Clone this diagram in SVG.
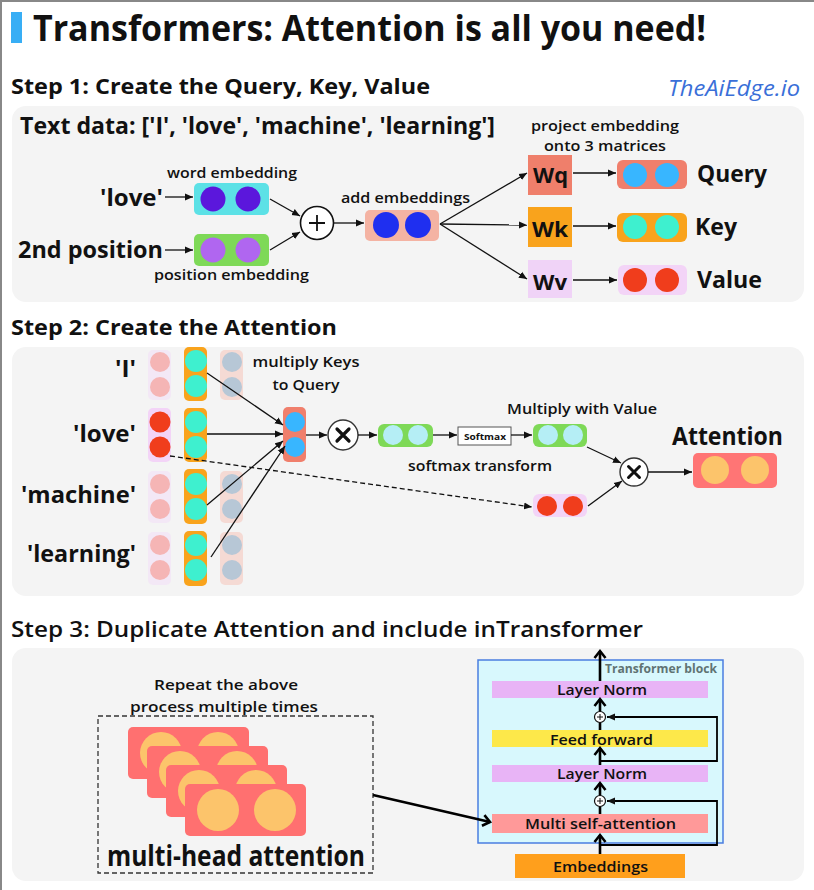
<svg xmlns="http://www.w3.org/2000/svg" width="814" height="890" viewBox="0 0 814 890">
<defs>
<style>
text{font-family:"Open Sans","Liberation Sans",sans-serif;font-weight:700;fill:#111}
.h{font-size:21px}
.lbl{font-size:15px;font-weight:600}
.big{font-size:24px}
.panel{fill:#f4f4f4}
.ln{stroke:#111;stroke-width:1.3;fill:none}
.thick{stroke:#000;stroke-width:2.6;fill:none}
.skip{stroke:#000;stroke-width:1.8;fill:none}
.kp{fill:#f9a31c}.kc{fill:#3ef0cf}
.vf{fill:#f3e8f6}.vfc{fill:#f5b5b5}
.tp{fill:#f5dad4}.tc{fill:#b7c7d6}
.card{fill:#ff7070}.cc{fill:#fcc46b}
</style>
<marker id="a" markerUnits="userSpaceOnUse" markerWidth="9" markerHeight="8" refX="8" refY="4" orient="auto"><path d="M0,0.5 L8,4 L0,7.5 z" fill="#111"/></marker>
<marker id="c" markerUnits="userSpaceOnUse" markerWidth="12" markerHeight="14" refX="9" refY="7" orient="auto"><path d="M2,1.5 L9,7 L2,12.5" fill="none" stroke="#000" stroke-width="2.6"/></marker>
</defs>
<rect width="814" height="890" fill="#fff"/>
<path d="M1,890 V1 H814" fill="none" stroke="#888" stroke-width="2"/>

<g id="title">
<rect x="11" y="12" width="11" height="31" fill="#38aef5"/>
<text x="33" y="41" style="font-size:36px" textLength="673" lengthAdjust="spacingAndGlyphs">Transformers: Attention is all you need!</text>
</g>

<!-- Step 1 -->
<g id="step1-heading">
<text class="h" x="11" y="94" textLength="419" lengthAdjust="spacingAndGlyphs">Step 1: Create the Query, Key, Value</text>
<text x="668" y="96" style="font-size:21px;font-weight:400;font-style:italic;fill:#3a6fd8" textLength="132" lengthAdjust="spacingAndGlyphs">TheAiEdge.io</text>
</g>
<rect id="panel1" class="panel" x="12" y="106" width="792" height="196" rx="14"/>
<text x="20" y="134" style="font-size:23px" textLength="475" lengthAdjust="spacingAndGlyphs">Text data: ['I', 'love', 'machine', 'learning']</text>

<g id="love-word">
<text class="big" x="100" y="206" textLength="63" lengthAdjust="spacingAndGlyphs">'love'</text>
</g>
<g id="pos-word">
<text class="big" x="18" y="258" textLength="145" lengthAdjust="spacingAndGlyphs">2nd position</text>
</g>
<g id="word-emb">
<text class="lbl" x="167" y="178" textLength="130" lengthAdjust="spacingAndGlyphs">word embedding</text>
<rect x="194" y="183" width="75" height="32" rx="5" fill="#5ce1e6"/>
<circle cx="213" cy="199" r="12.5" fill="#5b17dc"/>
<circle cx="248" cy="199" r="12.5" fill="#5b17dc"/>
</g>
<g id="pos-emb">
<rect x="194" y="234" width="75" height="32" rx="5" fill="#7ed957"/>
<circle cx="213" cy="250" r="12.5" fill="#b066f0"/>
<circle cx="248" cy="250" r="12.5" fill="#b066f0"/>
<text class="lbl" x="154" y="280" textLength="155" lengthAdjust="spacingAndGlyphs">position embedding</text>
</g>
<g id="plus">
<circle cx="317" cy="223" r="16.5" fill="#fff" stroke="#111" stroke-width="1.6"/>
<path d="M309,223 H325 M317,215 V231" stroke="#111" stroke-width="1.8"/>
</g>
<g id="add-emb">
<text class="lbl" x="341" y="203" textLength="129" lengthAdjust="spacingAndGlyphs">add embeddings</text>
<rect x="365" y="210" width="74" height="31" rx="5" fill="#f4b3a3"/>
<circle cx="386" cy="225" r="13" fill="#1f2ff0"/>
<circle cx="418" cy="225" r="13" fill="#1f2ff0"/>
</g>
<text class="lbl" x="531" y="131" textLength="148" lengthAdjust="spacingAndGlyphs">project embedding</text>
<text class="lbl" x="544" y="151" textLength="122" lengthAdjust="spacingAndGlyphs">onto 3 matrices</text>
<g id="Wq">
<rect x="528" y="155" width="44" height="40" fill="#ef7f6b"/>
<text x="533" y="183" style="font-size:22px" textLength="35" lengthAdjust="spacingAndGlyphs">Wq</text>
</g>
<g id="Wk">
<rect x="528" y="207" width="44" height="40" fill="#f9a31c"/>
<text x="532" y="237" style="font-size:22px" textLength="36" lengthAdjust="spacingAndGlyphs">Wk</text>
</g>
<g id="Wv">
<rect x="528" y="260" width="44" height="38" fill="#f0d3f7"/>
<text x="533" y="290" style="font-size:22px" textLength="34" lengthAdjust="spacingAndGlyphs">Wv</text>
</g>
<g id="query">
<rect x="617" y="160" width="70" height="29" rx="6" fill="#f07f6c"/>
<circle cx="635" cy="175" r="12" fill="#38b6ff"/>
<circle cx="667" cy="175" r="12" fill="#38b6ff"/>
<text class="big" x="697" y="182" textLength="70" lengthAdjust="spacingAndGlyphs">Query</text>
</g>
<g id="key">
<rect x="617" y="213" width="70" height="29" rx="6" fill="#f9a31c"/>
<circle cx="635" cy="227" r="12" fill="#3ef0cf"/>
<circle cx="667" cy="227" r="12" fill="#3ef0cf"/>
<text class="big" x="695" y="235" textLength="42" lengthAdjust="spacingAndGlyphs">Key</text>
</g>
<g id="value">
<rect x="618" y="265" width="69" height="30" rx="6" fill="#f3d4f7"/>
<circle cx="635" cy="280" r="12" fill="#f03d1c"/>
<circle cx="667" cy="280" r="12" fill="#f03d1c"/>
<text class="big" x="697" y="288" textLength="65" lengthAdjust="spacingAndGlyphs">Value</text>
</g>

<!-- Step 2 -->
<text id="step2-heading" class="h" x="11" y="335" textLength="326" lengthAdjust="spacingAndGlyphs">Step 2: Create the Attention</text>
<rect id="panel2" class="panel" x="12" y="347" width="792" height="249" rx="14"/>

<g id="labels2" text-anchor="end">
<text class="big" x="136" y="377" textLength="21" lengthAdjust="spacingAndGlyphs">'I'</text>
<text class="big" x="136" y="442" textLength="63" lengthAdjust="spacingAndGlyphs">'love'</text>
<text class="big" x="136" y="503" textLength="115" lengthAdjust="spacingAndGlyphs">'machine'</text>
<text class="big" x="136" y="562" textLength="109" lengthAdjust="spacingAndGlyphs">'learning'</text>
</g>

<g id="row-I">
<rect class="vf" x="148" y="350" width="23" height="50" rx="5"/>
<circle class="vfc" cx="160" cy="362" r="10"/><circle class="vfc" cx="160" cy="387" r="10"/>
<rect class="kp" x="184" y="347" width="23" height="54" rx="5"/>
<circle class="kc" cx="196" cy="361" r="11"/><circle class="kc" cx="196" cy="386" r="11"/>
<rect class="tp" x="220" y="350" width="23" height="50" rx="5"/>
<circle class="tc" cx="232" cy="362" r="10"/><circle class="tc" cx="232" cy="387" r="10"/>
</g>
<g id="row-love">
<rect x="148" y="408" width="23" height="54" rx="5" fill="#f3d4f7"/>
<circle cx="160" cy="422" r="10.5" fill="#f03d1c"/><circle cx="160" cy="447" r="10.5" fill="#f03d1c"/>
<rect class="kp" x="184" y="408" width="23" height="54" rx="5"/>
<circle class="kc" cx="196" cy="422" r="11"/><circle class="kc" cx="196" cy="447" r="11"/>
</g>
<g id="row-machine">
<rect class="vf" x="148" y="471" width="23" height="52" rx="5"/>
<circle class="vfc" cx="160" cy="484" r="10"/><circle class="vfc" cx="160" cy="509" r="10"/>
<rect class="kp" x="184" y="469" width="23" height="55" rx="5"/>
<circle class="kc" cx="196" cy="484" r="11"/><circle class="kc" cx="196" cy="509" r="11"/>
<rect class="tp" x="220" y="471" width="23" height="52" rx="5"/>
<circle class="tc" cx="232" cy="484" r="10"/><circle class="tc" cx="232" cy="509" r="10"/>
</g>
<g id="row-learning">
<rect class="vf" x="148" y="532" width="23" height="53" rx="5"/>
<circle class="vfc" cx="160" cy="545" r="10"/><circle class="vfc" cx="160" cy="570" r="10"/>
<rect class="kp" x="184" y="531" width="23" height="55" rx="5"/>
<circle class="kc" cx="196" cy="545" r="11"/><circle class="kc" cx="196" cy="570" r="11"/>
<rect class="tp" x="220" y="532" width="23" height="53" rx="5"/>
<circle class="tc" cx="232" cy="545" r="10"/><circle class="tc" cx="232" cy="570" r="10"/>
</g>

<g id="query-love">
<text class="lbl" x="306" y="367" text-anchor="middle" textLength="107" lengthAdjust="spacingAndGlyphs">multiply Keys</text>
<text class="lbl" x="306" y="390" text-anchor="middle" textLength="67" lengthAdjust="spacingAndGlyphs">to Query</text>
<rect x="283" y="407" width="23" height="55" rx="5" fill="#f07f6c"/>
<circle cx="295" cy="422" r="10" fill="#38b6ff"/><circle cx="295" cy="447" r="10" fill="#38b6ff"/>
</g>
<g id="mult1">
<circle cx="343" cy="435" r="15" fill="#fff" stroke="#333" stroke-width="1.4"/>
<path d="M337,429 L349,441 M349,429 L337,441" stroke="#111" stroke-width="3.2" stroke-linecap="round"/>
</g>
<g id="scores">
<rect x="378" y="424" width="55" height="23" rx="6" fill="#7ed957"/>
<circle cx="393" cy="435" r="10" fill="#b5eef5"/><circle cx="418" cy="435" r="10" fill="#b5eef5"/>
<text class="lbl" x="408" y="471" textLength="144" lengthAdjust="spacingAndGlyphs">softmax transform</text>
</g>
<g id="softmax">
<rect x="458" y="427" width="53" height="18" fill="#fff" stroke="#555" stroke-width="1"/>
<text x="485" y="439.5" text-anchor="middle" style="font-size:9px" textLength="42" lengthAdjust="spacingAndGlyphs">Softmax</text>
</g>
<g id="weights">
<text class="lbl" x="582" y="414" text-anchor="middle" style="font-size:14px" textLength="150" lengthAdjust="spacingAndGlyphs">Multiply with Value</text>
<rect x="533" y="424" width="54" height="23" rx="6" fill="#7ed957"/>
<circle cx="548" cy="435" r="10" fill="#b5eef5"/><circle cx="573" cy="435" r="10" fill="#b5eef5"/>
</g>
<g id="value-love">
<rect x="533" y="494" width="54" height="23" rx="6" fill="#f3d4f7"/>
<circle cx="547" cy="506" r="10" fill="#f03d1c"/><circle cx="573" cy="506" r="10" fill="#f03d1c"/>
</g>
<g id="mult2">
<circle cx="634" cy="472" r="14" fill="#fff" stroke="#333" stroke-width="1.4"/>
<path d="M628.5,466.5 L639.5,477.5 M639.5,466.5 L628.5,477.5" stroke="#111" stroke-width="3" stroke-linecap="round"/>
</g>
<g id="attention">
<text x="672" y="445" style="font-size:25px" textLength="111" lengthAdjust="spacingAndGlyphs">Attention</text>
<rect x="693" y="453" width="84" height="35" rx="5" fill="#ff7575"/>
<circle cx="715" cy="470" r="14" fill="#fcc46b"/><circle cx="755" cy="470" r="14" fill="#fcc46b"/>
</g>

<!-- Step 3 -->
<text id="step3-heading" class="h" x="11" y="637" style="font-weight:600" textLength="632" lengthAdjust="spacingAndGlyphs">Step 3: Duplicate Attention and include inTransformer</text>
<rect id="panel3" class="panel" x="12" y="648" width="792" height="233" rx="14"/>

<g id="multi-head">
<text class="lbl" x="154" y="690" textLength="144" lengthAdjust="spacingAndGlyphs">Repeat the above</text>
<text class="lbl" x="130" y="712" textLength="188" lengthAdjust="spacingAndGlyphs">process multiple times</text>
<rect x="98" y="716" width="275" height="157" fill="none" stroke="#333" stroke-width="1.3" stroke-dasharray="5,3"/>
<rect class="card" x="128" y="727" width="121" height="52" rx="5"/>
<circle class="cc" cx="161" cy="753" r="21"/><circle class="cc" cx="218" cy="753" r="21"/>
<rect class="card" x="147" y="746" width="121" height="52" rx="5"/>
<circle class="cc" cx="180" cy="772" r="21"/><circle class="cc" cx="237" cy="772" r="21"/>
<rect class="card" x="166" y="765" width="121" height="52" rx="5"/>
<circle class="cc" cx="199" cy="791" r="21"/><circle class="cc" cx="256" cy="791" r="21"/>
<rect class="card" x="185" y="784" width="121" height="52" rx="5"/>
<circle class="cc" cx="218" cy="810" r="21"/><circle class="cc" cx="275" cy="810" r="21"/>
<text x="107" y="866" style="font-size:28px" textLength="258" lengthAdjust="spacingAndGlyphs">multi-head attention</text>
</g>

<g id="transformer-block">
<rect x="478" y="660" width="245" height="183" fill="#d8f8fd" stroke="#4a7de0" stroke-width="1.5"/>
<text x="605" y="673" style="font-size:12px;fill:#5f7373" textLength="112" lengthAdjust="spacingAndGlyphs">Transformer block</text>
</g>
<g id="layernorm-top">
<rect x="492" y="681" width="216" height="17" fill="#e8b4f6"/>
<text class="lbl" x="557" y="695" textLength="90" lengthAdjust="spacingAndGlyphs">Layer Norm</text>
</g>
<g id="feed-forward">
<rect x="492" y="730" width="216" height="17" fill="#fde84a"/>
<text class="lbl" x="550" y="745" textLength="103" lengthAdjust="spacingAndGlyphs">Feed forward</text>
</g>
<g id="layernorm-mid">
<rect x="492" y="765" width="216" height="17" fill="#e8b4f6"/>
<text class="lbl" x="557" y="779" textLength="90" lengthAdjust="spacingAndGlyphs">Layer Norm</text>
</g>
<g id="multi-self-attention">
<rect x="492" y="814" width="216" height="19" fill="#ff9999"/>
<text class="lbl" x="525" y="829" textLength="151" lengthAdjust="spacingAndGlyphs">Multi self-attention</text>
</g>
<g id="embeddings">
<rect x="515" y="854" width="170" height="24" fill="#ff9f1c"/>
<text class="lbl" x="553" y="872" textLength="95" lengthAdjust="spacingAndGlyphs">Embeddings</text>
</g>
<g id="add1">
<circle cx="600" cy="717" r="5.5" fill="#fff" stroke="#111" stroke-width="1.2"/>
<path d="M597,717 H603 M600,714 V720" stroke="#111" stroke-width="1"/>
</g>
<g id="add2">
<circle cx="600" cy="801" r="5.5" fill="#fff" stroke="#111" stroke-width="1.2"/>
<path d="M597,801 H603 M600,798 V804" stroke="#111" stroke-width="1"/>
</g>

<g id="connectors">
<path class="ln" d="M165,197 H193" marker-end="url(#a)"/>
<path class="ln" d="M165,250 H193" marker-end="url(#a)"/>
<path class="ln" d="M270,199 L300,216" marker-end="url(#a)"/>
<path class="ln" d="M270,250 L300,232" marker-end="url(#a)"/>
<path class="ln" d="M334,223 H364" marker-end="url(#a)"/>
<path class="ln" d="M440,224 L527,173" marker-end="url(#a)"/>
<path class="ln" d="M440,224 L527,225" marker-end="url(#a)"/>
<path class="ln" d="M440,224 L527,279" marker-end="url(#a)"/>
<path class="ln" d="M573,173 H616" marker-end="url(#a)"/>
<path class="ln" d="M573,226 H616" marker-end="url(#a)"/>
<path class="ln" d="M573,280 H617" marker-end="url(#a)"/>

<path class="ln" d="M207,373 L283,425" marker-end="url(#a)"/>
<path class="ln" d="M207,434 H283" marker-end="url(#a)"/>
<path class="ln" d="M207,505 L283,441" marker-end="url(#a)"/>
<path class="ln" d="M211,557 L285,446" marker-end="url(#a)"/>
<path class="ln" d="M306,435 H327" marker-end="url(#a)"/>
<path class="ln" d="M358,435 H377" marker-end="url(#a)"/>
<path class="ln" d="M433,435 H457" marker-end="url(#a)"/>
<path class="ln" d="M511,435 H532" marker-end="url(#a)"/>
<path class="ln" d="M587,447 L621,463" marker-end="url(#a)"/>
<path class="ln" d="M588,506 L622,481" marker-end="url(#a)"/>
<path class="ln" d="M648,472 H692" marker-end="url(#a)"/>
<path class="ln" d="M170,456 L532,507" stroke-dasharray="5,3" marker-end="url(#a)"/>

<path class="thick" d="M373,795 L490,822" marker-end="url(#c)"/>
<path class="thick" d="M600,854 V835" marker-end="url(#c)"/>
<path class="skip" d="M600,845 H717 V801 H607" marker-end="url(#a)"/>
<path class="thick" d="M600,814 V806.5"/>
<path class="thick" d="M600,795.5 V783" marker-end="url(#c)"/>
<path class="thick" d="M600,765 V748" marker-end="url(#c)"/>
<path class="skip" d="M600,761 H717 V717 H607" marker-end="url(#a)"/>
<path class="thick" d="M600,730 V722.5"/>
<path class="thick" d="M600,711.5 V699" marker-end="url(#c)"/>
<path class="thick" d="M600,681 V651" marker-end="url(#c)"/>
</g>
</svg>
